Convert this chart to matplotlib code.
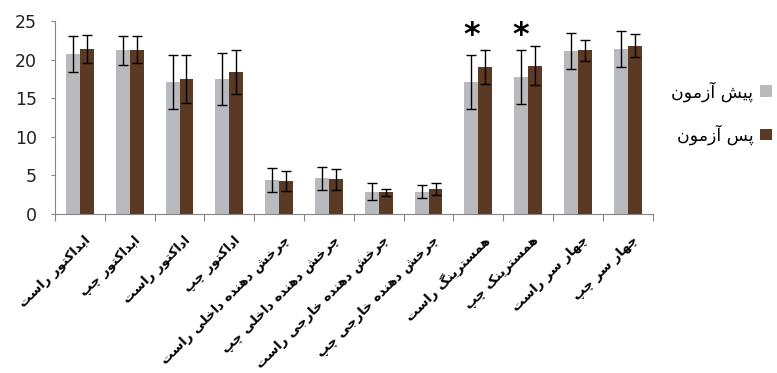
import numpy as np
import matplotlib
matplotlib.use("Agg")
import matplotlib.pyplot as plt

# بازچینی ساده حروف فارسی (matplotlib شکل‌دهی راست به چپ ندارد)
FORMS = {
    'ا': ('\uFE8D', '\uFE8E', None, None),
    'آ': ('\uFE81', '\uFE82', None, None),
    'ب': ('\uFE8F', '\uFE90', '\uFE91', '\uFE92'),
    'پ': ('\uFB56', '\uFB57', '\uFB58', '\uFB59'),
    'ت': ('\uFE95', '\uFE96', '\uFE97', '\uFE98'),
    'ج': ('\uFE9D', '\uFE9E', '\uFE9F', '\uFEA0'),
    'چ': ('\uFB7A', '\uFB7B', '\uFB7C', '\uFB7D'),
    'خ': ('\uFEA5', '\uFEA6', '\uFEA7', '\uFEA8'),
    'د': ('\uFEA9', '\uFEAA', None, None),
    'ر': ('\uFEAD', '\uFEAE', None, None),
    'ز': ('\uFEAF', '\uFEB0', None, None),
    'س': ('\uFEB1', '\uFEB2', '\uFEB3', '\uFEB4'),
    'ش': ('\uFEB5', '\uFEB6', '\uFEB7', '\uFEB8'),
    'ک': ('\uFB8E', '\uFB8F', '\uFB90', '\uFB91'),
    'گ': ('\uFB92', '\uFB93', '\uFB94', '\uFB95'),
    'ل': ('\uFEDD', '\uFEDE', '\uFEDF', '\uFEE0'),
    'م': ('\uFEE1', '\uFEE2', '\uFEE3', '\uFEE4'),
    'ن': ('\uFEE5', '\uFEE6', '\uFEE7', '\uFEE8'),
    'ه': ('\uFEE9', '\uFEEA', '\uFEEB', '\uFEEC'),
    'و': ('\uFEED', '\uFEEE', None, None),
    'ی': ('\uFBFC', '\uFBFD', '\uFBFE', '\uFBFF'),
}


def fa(text):
    out = []
    for i, ch in enumerate(text):
        if ch not in FORMS:
            out.append(ch)
            continue
        prev = text[i - 1] if i > 0 else ''
        nxt = text[i + 1] if i + 1 < len(text) else ''
        join_prev = prev in FORMS and FORMS[prev][2] is not None
        join_next = nxt in FORMS and FORMS[ch][2] is not None
        iso, fin, ini, med = FORMS[ch]
        if join_prev and join_next:
            out.append(med)
        elif join_prev:
            out.append(fin)
        elif join_next:
            out.append(ini)
        else:
            out.append(iso)
    return ''.join(out)[::-1]


categories = ['ابداکتور راست', 'ابداکتور چپ', 'اداکتور راست', 'اداکتور چپ',
              'چرخش دهنده داخلی راست', 'چرخش دهنده داخلی چپ',
              'چرخش دهنده خارجی راست', 'چرخش دهنده خارجی چپ',
              'همسترینگ راست', 'همسترینک چپ', 'چهار سر راست', 'چهار سر چپ']
pre = [20.7, 21.2, 17.1, 17.5, 4.4, 4.6, 2.9, 2.9, 17.1, 17.7, 21.1, 21.4]
pre_err = [2.3, 1.9, 3.5, 3.4, 1.5, 1.5, 1.1, 0.85, 3.5, 3.5, 2.35, 2.3]
post = [21.4, 21.3, 17.5, 18.4, 4.3, 4.5, 2.8, 3.2, 19.0, 19.2, 21.2, 21.8]
post_err = [1.8, 1.8, 3.1, 2.8, 1.3, 1.35, 0.5, 0.8, 2.2, 2.5, 1.35, 1.5]
significant = [8, 9]
series_names = ['پیش آزمون', 'پس آزمون']

fig = plt.figure(figsize=(7.77, 3.73), dpi=100)
ax = fig.add_axes([0.0708, 0.4263, 0.7692, 0.5174])

x = np.arange(len(categories))
w = 0.28
err_kw = dict(ecolor='black', elinewidth=1, capsize=3.5, capthick=1)
ax.bar(x - w / 2, pre, w, yerr=pre_err, color='#b8babe', error_kw=err_kw,
       label=fa(series_names[0]))
ax.bar(x + w / 2, post, w, yerr=post_err, color='#5a3925', error_kw=err_kw,
       label=fa(series_names[1]))

for i in significant:
    ax.text(x[i] - w / 2, 22.0, '*', ha='center', va='baseline', fontsize=23,
            fontweight='bold', color='black')

ax.set_xlim(-0.5, len(categories) - 0.5)
ax.set_ylim(0, 25)
ax.set_yticks([0, 5, 10, 15, 20, 25])
ax.tick_params(axis='y', labelsize=12.5, length=3, color='#868686', pad=10,
               labelcolor='#222222')

ax.set_xticks(np.arange(len(categories) + 1) - 0.5)
ax.set_xticklabels([])
ax.tick_params(axis='x', which='major', length=5, color='#868686')
ax.set_xticks(x + 0.08, minor=True)
ax.set_xticklabels([fa(c) for c in categories], minor=True, rotation=45,
                   ha='right', va='top', rotation_mode='anchor',
                   fontsize=9.5, fontweight='bold')
ax.tick_params(axis='x', which='minor', length=0, pad=14)

for s in ['top', 'right']:
    ax.spines[s].set_visible(False)
for s in ['left', 'bottom']:
    ax.spines[s].set_color('#868686')

ax.legend(loc='upper left', bbox_to_anchor=(1.005, 0.77), frameon=False,
          markerfirst=False, handlelength=0.65, handleheight=0.65,
          labelspacing=1.3, handletextpad=0.4, fontsize=12.5)

fig.savefig('out.png', dpi=100)
